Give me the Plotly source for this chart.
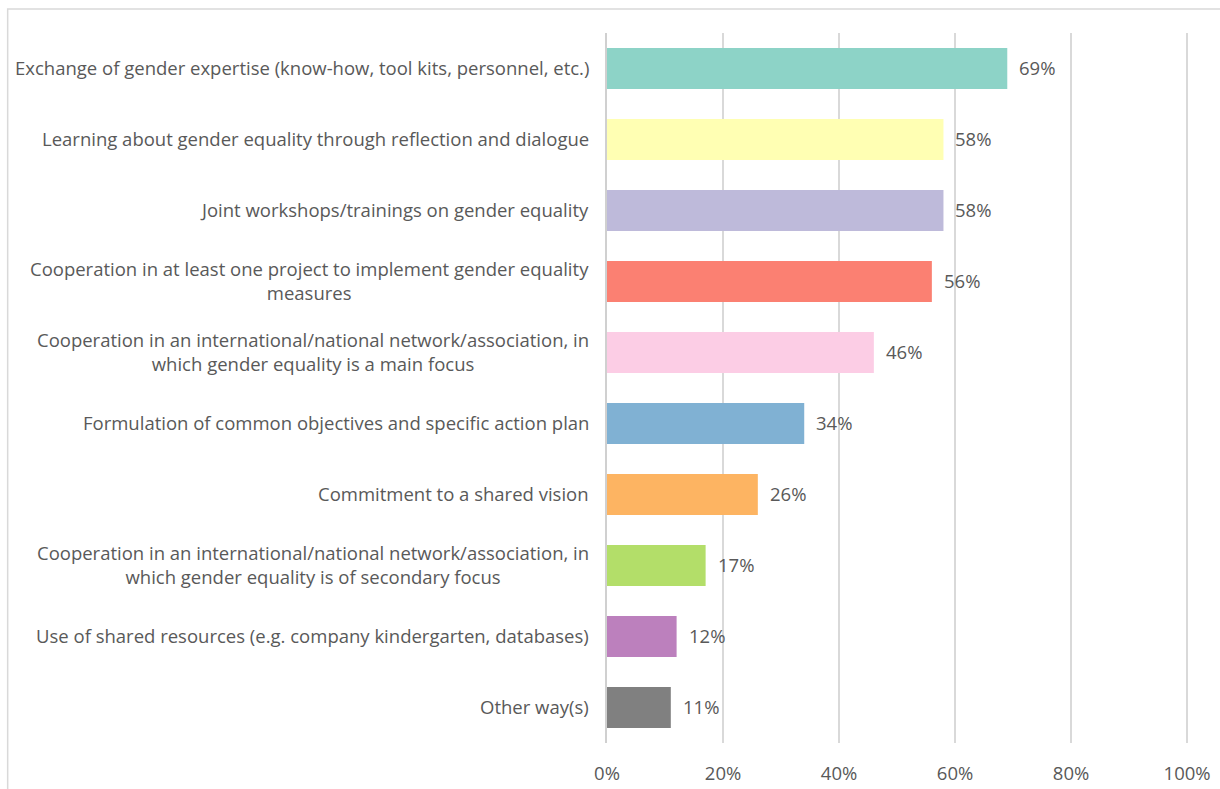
import plotly.graph_objects as go

categories = [
    "Exchange of gender expertise (know-how, tool kits, personnel, etc.)",
    "Learning about gender equality through reflection and dialogue",
    "Joint workshops/trainings on gender equality",
    "Cooperation in at least one project to implement gender equality<br>measures",
    "Cooperation in an international/national network/association, in<br>which gender equality is a main focus",
    "Formulation of common objectives and specific action plan",
    "Commitment to a shared vision",
    "Cooperation in an international/national network/association, in<br>which gender equality is of secondary focus",
    "Use of shared resources (e.g. company kindergarten, databases)",
    "Other way(s)",
]
values = [69, 58, 58, 56, 46, 34, 26, 17, 12, 11]
colors = ["#8DD3C7", "#FFFFB3", "#BEBADA", "#FB8072", "#FCCDE5",
          "#80B1D3", "#FDB462", "#B3DE69", "#BC80BD", "#808080"]
tick_vals = [0, 20, 40, 60, 80, 100]
tick_text = ["0%", "20%", "40%", "60%", "80%", "100%"]

FONT = "'Open Sans', sans-serif"
GREY = "#595959"
SIZE = 18.5

ids = list(range(len(categories)))

fig = go.Figure()
fig.add_trace(go.Bar(
    x=values,
    y=ids,
    orientation="h",
    marker=dict(color=colors, line=dict(width=0)),
    width=0.58,
    hoverinfo="skip",
))

# category labels: right-aligned to the axis, lines centred among themselves
for i, cat in enumerate(categories):
    fig.add_annotation(
        x=0, xref="paper", y=i, yref="y",
        text=cat, showarrow=False,
        xanchor="right", yanchor="middle", align="center",
        xshift=-16, yshift=1,
        font=dict(family=FONT, size=SIZE, color=GREY),
    )

# value labels at the end of each bar
for i, v in enumerate(values):
    fig.add_annotation(
        x=v, xref="x", y=i, yref="y",
        text=f"{v}%", showarrow=False,
        xanchor="left", yanchor="middle",
        xshift=10, yshift=1,
        font=dict(family=FONT, size=SIZE, color=GREY),
    )

# outer chart frame
fig.add_shape(
    type="rect", xref="paper", yref="paper",
    x0=-1.028, x1=1.2, y0=-0.2, y1=1.0338,
    line=dict(color="#D9D9D9", width=1.5),
    fillcolor="rgba(0,0,0,0)", layer="below",
)

fig.update_layout(
    width=1220, height=789,
    margin=dict(l=607, r=30, t=33, b=46),
    paper_bgcolor="white", plot_bgcolor="white",
    showlegend=False,
    bargap=0.42,
    xaxis=dict(
        range=[0, 100.5], tickvals=tick_vals, ticktext=tick_text,
        showgrid=True, gridcolor="#D9D9D9", gridwidth=1.5,
        zeroline=False, showline=False, ticks="",
        ticklabelstandoff=17,
        tickfont=dict(family=FONT, size=SIZE, color=GREY),
        automargin=False,
        fixedrange=True,
    ),
    yaxis=dict(
        range=[len(categories) - 0.5, -0.5],
        showticklabels=False, showgrid=False, zeroline=False,
        showline=True, linecolor="#D0D0D0", linewidth=1.5,
        ticks="", automargin=False, fixedrange=True,
    ),
)

fig.write_html("out.html")
